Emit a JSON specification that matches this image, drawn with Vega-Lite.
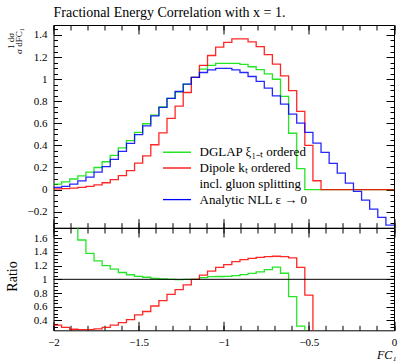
{
"$schema": "https://vega.github.io/schema/vega-lite/v6.json",
"padding": {"left": 4.5, "top": 5, "right": 0, "bottom": 0},
"config": {
  "font": "Liberation Serif",
  "view": {"stroke": "black", "strokeWidth": 1},
  "axis": {"labelFlush": false, "labelOverlap": false, "labelBound": false, "grid": false, "domain": false, "tickColor": "black", "tickWidth": 1, "labelColor": "black", "titleColor": "black", "labelFont": "Liberation Serif", "titleFont": "Liberation Serif", "titleFontWeight": "normal", "labelFontSize": 11}
},
"datasets": {
"main": [
{"s":"g","x":-2,"v":0.05},{"s":"g","x":-1.95238,"v":0.07},{"s":"g","x":-1.90476,"v":0.096},{"s":"g","x":-1.85714,"v":0.125},{"s":"g","x":-1.80952,"v":0.158},{"s":"g","x":-1.7619,"v":0.2},{"s":"g","x":-1.71429,"v":0.252},{"s":"g","x":-1.66667,"v":0.31},{"s":"g","x":-1.61905,"v":0.378},{"s":"g","x":-1.57143,"v":0.443},{"s":"g","x":-1.52381,"v":0.518},{"s":"g","x":-1.47619,"v":0.596},{"s":"g","x":-1.42857,"v":0.675},{"s":"g","x":-1.38095,"v":0.748},{"s":"g","x":-1.33333,"v":0.825},{"s":"g","x":-1.28571,"v":0.885},{"s":"g","x":-1.2381,"v":0.955},{"s":"g","x":-1.19048,"v":1.015},{"s":"g","x":-1.14286,"v":1.09},{"s":"g","x":-1.09524,"v":1.125},{"s":"g","x":-1.04762,"v":1.142},{"s":"g","x":-1,"v":1.143},{"s":"g","x":-0.95238,"v":1.143},{"s":"g","x":-0.90476,"v":1.133},{"s":"g","x":-0.85714,"v":1.112},{"s":"g","x":-0.80952,"v":1.086},{"s":"g","x":-0.7619,"v":1.048},{"s":"g","x":-0.71429,"v":0.999},{"s":"g","x":-0.66667,"v":0.843},{"s":"g","x":-0.61905,"v":0.51},{"s":"g","x":-0.57143,"v":0.19},{"s":"g","x":-0.52381,"v":0},{"s":"g","x":-0.47619,"v":0},{"s":"g","x":-0.42857,"v":0},{"s":"g","x":-0.38095,"v":0},{"s":"g","x":-0.33333,"v":0},{"s":"g","x":-0.28571,"v":0},{"s":"g","x":-0.2381,"v":0},{"s":"g","x":-0.19048,"v":0},{"s":"g","x":-0.14286,"v":0},{"s":"g","x":-0.09524,"v":0},{"s":"g","x":-0.04762,"v":0},{"s":"g","x":0,"v":0},
{"s":"r","x":-2,"v":0.0066},{"s":"r","x":-1.95238,"v":0.009},{"s":"r","x":-1.90476,"v":0.0135},{"s":"r","x":-1.85714,"v":0.0207},{"s":"r","x":-1.80952,"v":0.0297},{"s":"r","x":-1.7619,"v":0.0435},{"s":"r","x":-1.71429,"v":0.0618},{"s":"r","x":-1.66667,"v":0.0904},{"s":"r","x":-1.61905,"v":0.127},{"s":"r","x":-1.57143,"v":0.171},{"s":"r","x":-1.52381,"v":0.239},{"s":"r","x":-1.47619,"v":0.306},{"s":"r","x":-1.42857,"v":0.406},{"s":"r","x":-1.38095,"v":0.513},{"s":"r","x":-1.33333,"v":0.644},{"s":"r","x":-1.28571,"v":0.755},{"s":"r","x":-1.2381,"v":0.879},{"s":"r","x":-1.19048,"v":1.015},{"s":"r","x":-1.14286,"v":1.124},{"s":"r","x":-1.09524,"v":1.214},{"s":"r","x":-1.04762,"v":1.29},{"s":"r","x":-1,"v":1.332},{"s":"r","x":-0.95238,"v":1.364},{"s":"r","x":-0.90476,"v":1.364},{"s":"r","x":-0.85714,"v":1.338},{"s":"r","x":-0.80952,"v":1.294},{"s":"r","x":-0.7619,"v":1.222},{"s":"r","x":-0.71429,"v":1.135},{"s":"r","x":-0.66667,"v":1.03},{"s":"r","x":-0.61905,"v":0.896},{"s":"r","x":-0.57143,"v":0.708},{"s":"r","x":-0.52381,"v":0.4},{"s":"r","x":-0.47619,"v":0.08},{"s":"r","x":-0.42857,"v":0},{"s":"r","x":-0.38095,"v":0},{"s":"r","x":-0.33333,"v":0},{"s":"r","x":-0.28571,"v":0},{"s":"r","x":-0.2381,"v":0},{"s":"r","x":-0.19048,"v":0},{"s":"r","x":-0.14286,"v":0},{"s":"r","x":-0.09524,"v":0},{"s":"r","x":-0.04762,"v":0},{"s":"r","x":0,"v":0},
{"s":"b","x":-2,"v":0.02},{"s":"b","x":-1.95238,"v":0.03},{"s":"b","x":-1.90476,"v":0.05},{"s":"b","x":-1.85714,"v":0.078},{"s":"b","x":-1.80952,"v":0.112},{"s":"b","x":-1.7619,"v":0.158},{"s":"b","x":-1.71429,"v":0.208},{"s":"b","x":-1.66667,"v":0.274},{"s":"b","x":-1.61905,"v":0.346},{"s":"b","x":-1.57143,"v":0.418},{"s":"b","x":-1.52381,"v":0.497},{"s":"b","x":-1.47619,"v":0.577},{"s":"b","x":-1.42857,"v":0.667},{"s":"b","x":-1.38095,"v":0.744},{"s":"b","x":-1.33333,"v":0.825},{"s":"b","x":-1.28571,"v":0.888},{"s":"b","x":-1.2381,"v":0.955},{"s":"b","x":-1.19048,"v":1.015},{"s":"b","x":-1.14286,"v":1.06},{"s":"b","x":-1.09524,"v":1.084},{"s":"b","x":-1.04762,"v":1.097},{"s":"b","x":-1,"v":1.097},{"s":"b","x":-0.95238,"v":1.084},{"s":"b","x":-0.90476,"v":1.06},{"s":"b","x":-0.85714,"v":1.024},{"s":"b","x":-0.80952,"v":0.979},{"s":"b","x":-0.7619,"v":0.918},{"s":"b","x":-0.71429,"v":0.849},{"s":"b","x":-0.66667,"v":0.774},{"s":"b","x":-0.61905,"v":0.683},{"s":"b","x":-0.57143,"v":0.602},{"s":"b","x":-0.52381,"v":0.518},{"s":"b","x":-0.47619,"v":0.42},{"s":"b","x":-0.42857,"v":0.337},{"s":"b","x":-0.38095,"v":0.237},{"s":"b","x":-0.33333,"v":0.149},{"s":"b","x":-0.28571,"v":0.059},{"s":"b","x":-0.2381,"v":-0.016},{"s":"b","x":-0.19048,"v":-0.095},{"s":"b","x":-0.14286,"v":-0.176},{"s":"b","x":-0.09524,"v":-0.252},{"s":"b","x":-0.04762,"v":-0.321},{"s":"b","x":0,"v":-0.321}
],
"ratio": [
{"s":"g","x":-2,"v":2.5},{"s":"g","x":-1.95238,"v":2.33},{"s":"g","x":-1.90476,"v":1.92},{"s":"g","x":-1.85714,"v":1.575},{"s":"g","x":-1.80952,"v":1.38},{"s":"g","x":-1.7619,"v":1.27},{"s":"g","x":-1.71429,"v":1.2},{"s":"g","x":-1.66667,"v":1.15},{"s":"g","x":-1.61905,"v":1.1},{"s":"g","x":-1.57143,"v":1.067},{"s":"g","x":-1.52381,"v":1.044},{"s":"g","x":-1.47619,"v":1.03},{"s":"g","x":-1.42857,"v":1.015},{"s":"g","x":-1.38095,"v":1.005},{"s":"g","x":-1.33333,"v":1.0},{"s":"g","x":-1.28571,"v":0.995},{"s":"g","x":-1.2381,"v":1.0},{"s":"g","x":-1.19048,"v":1.0},{"s":"g","x":-1.14286,"v":1.024},{"s":"g","x":-1.09524,"v":1.038},{"s":"g","x":-1.04762,"v":1.041},{"s":"g","x":-1,"v":1.042},{"s":"g","x":-0.95238,"v":1.054},{"s":"g","x":-0.90476,"v":1.069},{"s":"g","x":-0.85714,"v":1.086},{"s":"g","x":-0.80952,"v":1.109},{"s":"g","x":-0.7619,"v":1.142},{"s":"g","x":-0.71429,"v":1.177},{"s":"g","x":-0.66667,"v":1.089},{"s":"g","x":-0.61905,"v":0.747},{"s":"g","x":-0.57143,"v":0.316},{"s":"g","x":-0.52381,"v":0},{"s":"g","x":-0.47619,"v":0},{"s":"g","x":-0.42857,"v":0},{"s":"g","x":-0.38095,"v":0},{"s":"g","x":-0.33333,"v":0},{"s":"g","x":-0.28571,"v":0},{"s":"g","x":-0.2381,"v":0},{"s":"g","x":-0.19048,"v":0},{"s":"g","x":-0.14286,"v":0},{"s":"g","x":-0.09524,"v":0},{"s":"g","x":-0.04762,"v":0},{"s":"g","x":0,"v":0},
{"s":"r","x":-2,"v":0.331},{"s":"r","x":-1.95238,"v":0.297},{"s":"r","x":-1.90476,"v":0.27},{"s":"r","x":-1.85714,"v":0.265},{"s":"r","x":-1.80952,"v":0.265},{"s":"r","x":-1.7619,"v":0.275},{"s":"r","x":-1.71429,"v":0.297},{"s":"r","x":-1.66667,"v":0.33},{"s":"r","x":-1.61905,"v":0.367},{"s":"r","x":-1.57143,"v":0.41},{"s":"r","x":-1.52381,"v":0.48},{"s":"r","x":-1.47619,"v":0.53},{"s":"r","x":-1.42857,"v":0.61},{"s":"r","x":-1.38095,"v":0.69},{"s":"r","x":-1.33333,"v":0.78},{"s":"r","x":-1.28571,"v":0.85},{"s":"r","x":-1.2381,"v":0.92},{"s":"r","x":-1.19048,"v":1.0},{"s":"r","x":-1.14286,"v":1.06},{"s":"r","x":-1.09524,"v":1.12},{"s":"r","x":-1.04762,"v":1.176},{"s":"r","x":-1,"v":1.214},{"s":"r","x":-0.95238,"v":1.258},{"s":"r","x":-0.90476,"v":1.287},{"s":"r","x":-0.85714,"v":1.307},{"s":"r","x":-0.80952,"v":1.322},{"s":"r","x":-0.7619,"v":1.331},{"s":"r","x":-0.71429,"v":1.337},{"s":"r","x":-0.66667,"v":1.331},{"s":"r","x":-0.61905,"v":1.312},{"s":"r","x":-0.57143,"v":1.176},{"s":"r","x":-0.52381,"v":0.77},{"s":"r","x":-0.47619,"v":0.19},{"s":"r","x":-0.42857,"v":0},{"s":"r","x":-0.38095,"v":0},{"s":"r","x":-0.33333,"v":0},{"s":"r","x":-0.28571,"v":0},{"s":"r","x":-0.2381,"v":0},{"s":"r","x":-0.19048,"v":0},{"s":"r","x":-0.14286,"v":0},{"s":"r","x":-0.09524,"v":0},{"s":"r","x":-0.04762,"v":0},{"s":"r","x":0,"v":0}
]
},
"spacing": 0,
"bounds": "flush",
"resolve": {"scale": {"color": "independent", "x": "independent", "y": "independent"}, "legend": {"color": "independent"}},
"vconcat": [
{
  "width": 340.5, "height": 202.7,
  "title": {"text": "Fractional Energy Correlation with x = 1.", "anchor": "start", "frame": "group", "fontSize": 14, "fontWeight": "normal", "font": "Liberation Serif", "color": "black", "baseline": "alphabetic", "offset": -6},
  "data": {"name": "main"},
  "resolve": {"axis": {"x": "independent", "y": "independent"}},
  "layer": [
    {"mark": {"type": "line", "interpolate": "step-after", "clip": true, "strokeWidth": 1.3, "strokeOpacity": 0.85},
     "encoding": {
       "x": {"field": "x", "type": "quantitative", "scale": {"domain": [-2, 0], "nice": false, "zero": false},
             "axis": {"orient": "bottom", "values": [-2, -1.5, -1, -0.5, 0], "tickSize": -9, "labels": false, "title": null}},
       "y": {"field": "v", "type": "quantitative", "scale": {"domain": [-0.345, 1.49], "nice": false, "zero": false},
             "axis": {"orient": "left", "values": [-0.2, 0, 0.2, 0.4, 0.6, 0.8, 1, 1.2, 1.4], "format": "~g", "tickSize": -8, "labelPadding": 14.5,
                      "title": ["1    dσ", "σ  dFC₁"], "titleAngle": -90, "titleX": -43.5, "titleY": 15.5, "titleAlign": "center", "titleBaseline": "middle", "titleFontSize": 9, "titleLineHeight": 8}},
       "color": {"field": "s", "type": "nominal",
                 "scale": {"domain": ["g", "r", "i", "b"], "range": ["#00e000", "#ff0000", "#ffffff", "#0000ff"]},
                 "legend": {"orient": "none", "legendX": 117, "legendY": 120.7, "title": null, "padding": 0,
                            "symbolType": "M-2.8,0H2.8", "symbolSize": 100, "symbolStrokeWidth": 1.3, "labelOffset": 16, "rowPadding": 1.8,
                            "labelFontSize": 13, "labelFont": "Liberation Serif", "labelColor": "black", "labelLimit": 300,
                            "labelExpr": "datum.label == 'g' ? 'DGLAP ξ₁₋ₜ ordered' : datum.label == 'r' ? 'Dipole kₜ ordered' : datum.label == 'i' ? 'incl. gluon splitting' : 'Analytic NLL ε → 0'"}}
     }},
    {"mark": {"type": "line", "opacity": 0},
     "encoding": {
       "x": {"field": "x", "type": "quantitative", "axis": {"orient": "bottom", "values": [-2,-1.9,-1.8,-1.7,-1.6,-1.5,-1.4,-1.3,-1.2,-1.1,-1,-0.9,-0.8,-0.7,-0.6,-0.5,-0.4,-0.3,-0.2,-0.1,0], "tickSize": -5, "labels": false, "title": null}},
       "y": {"field": "v", "type": "quantitative", "axis": {"orient": "left", "values": [-0.3,-0.25,-0.2,-0.15,-0.1,-0.05,0,0.05,0.1,0.15,0.2,0.25,0.3,0.35,0.4,0.45,0.5,0.55,0.6,0.65,0.7,0.75,0.8,0.85,0.9,0.95,1,1.05,1.1,1.15,1.2,1.25,1.3,1.35,1.4,1.45], "tickSize": -4, "labels": false, "title": null}}
     }},
    {"mark": {"type": "line", "opacity": 0},
     "encoding": {
       "x": {"field": "x", "type": "quantitative", "axis": {"orient": "top", "values": [-2, -1.5, -1, -0.5, 0], "tickSize": -9, "labels": false, "title": null}},
       "y": {"field": "v", "type": "quantitative", "axis": {"orient": "right", "values": [-0.2, 0, 0.2, 0.4, 0.6, 0.8, 1, 1.2, 1.4], "tickSize": -8, "labels": false, "title": null}}
     }},
    {"mark": {"type": "line", "opacity": 0},
     "encoding": {
       "x": {"field": "x", "type": "quantitative", "axis": {"orient": "top", "values": [-2,-1.9,-1.8,-1.7,-1.6,-1.5,-1.4,-1.3,-1.2,-1.1,-1,-0.9,-0.8,-0.7,-0.6,-0.5,-0.4,-0.3,-0.2,-0.1,0], "tickSize": -5, "labels": false, "title": null}},
       "y": {"field": "v", "type": "quantitative", "axis": {"orient": "right", "values": [-0.3,-0.25,-0.2,-0.15,-0.1,-0.05,0,0.05,0.1,0.15,0.2,0.25,0.3,0.35,0.4,0.45,0.5,0.55,0.6,0.65,0.7,0.75,0.8,0.85,0.9,0.95,1,1.05,1.1,1.15,1.2,1.25,1.3,1.35,1.4,1.45], "tickSize": -4, "labels": false, "title": null}}
     }}
  ]
},
{
  "width": 340.5, "height": 102.3,
  "data": {"name": "ratio"},
  "resolve": {"axis": {"x": "independent", "y": "independent"}},
  "layer": [
    {"mark": {"type": "line", "interpolate": "step-after", "clip": true, "strokeWidth": 1.3, "strokeOpacity": 0.85},
     "encoding": {
       "x": {"field": "x", "type": "quantitative", "scale": {"domain": [-2, 0], "nice": false, "zero": false},
             "axis": {"orient": "bottom", "values": [-2, -1.5, -1, -0.5, 0], "format": "~g", "tickSize": -9, "labelPadding": 15, "labelBaseline": "top",
                      "title": "FC₁", "titleFontStyle": "italic", "titleFontSize": 12, "titleAnchor": "end", "titleAlign": "right", "titleBaseline": "alphabetic", "titleX": 342.5, "titleY": 28.5}},
       "y": {"field": "v", "type": "quantitative", "scale": {"domain": [0.255, 1.75], "nice": false, "zero": false},
             "axis": {"orient": "left", "values": [0.4, 0.6, 0.8, 1, 1.2, 1.4, 1.6], "format": "~g", "tickSize": -8, "labelPadding": 14.5,
                      "title": "Ratio", "titleAngle": -90, "titleX": -34.5, "titleY": 48, "titleAlign": "center", "titleBaseline": "bottom", "titleFontSize": 14}},
       "color": {"field": "s", "type": "nominal", "scale": {"domain": ["g", "r"], "range": ["#00e000", "#ff0000"]}, "legend": null}
     }},
    {"mark": {"type": "line", "opacity": 0},
     "encoding": {
       "x": {"field": "x", "type": "quantitative", "axis": {"orient": "bottom", "values": [-2,-1.9,-1.8,-1.7,-1.6,-1.5,-1.4,-1.3,-1.2,-1.1,-1,-0.9,-0.8,-0.7,-0.6,-0.5,-0.4,-0.3,-0.2,-0.1,0], "tickSize": -5, "labels": false, "title": null}},
       "y": {"field": "v", "type": "quantitative", "axis": {"orient": "left", "values": [0.3,0.35,0.4,0.45,0.5,0.55,0.6,0.65,0.7,0.75,0.8,0.85,0.9,0.95,1,1.05,1.1,1.15,1.2,1.25,1.3,1.35,1.4,1.45,1.5,1.55,1.6,1.65,1.7,1.75], "tickSize": -4, "labels": false, "title": null}}
     }},
    {"mark": {"type": "line", "opacity": 0},
     "encoding": {
       "x": {"field": "x", "type": "quantitative", "axis": {"orient": "top", "values": [-2, -1.5, -1, -0.5, 0], "tickSize": -9, "labels": false, "title": null}},
       "y": {"field": "v", "type": "quantitative", "axis": {"orient": "right", "values": [0.4, 0.6, 0.8, 1, 1.2, 1.4, 1.6], "tickSize": -8, "labels": false, "title": null}}
     }},
    {"mark": {"type": "line", "opacity": 0},
     "encoding": {
       "x": {"field": "x", "type": "quantitative", "axis": {"orient": "top", "values": [-2,-1.9,-1.8,-1.7,-1.6,-1.5,-1.4,-1.3,-1.2,-1.1,-1,-0.9,-0.8,-0.7,-0.6,-0.5,-0.4,-0.3,-0.2,-0.1,0], "tickSize": -5, "labels": false, "title": null}},
       "y": {"field": "v", "type": "quantitative", "axis": {"orient": "right", "values": [0.3,0.35,0.4,0.45,0.5,0.55,0.6,0.65,0.7,0.75,0.8,0.85,0.9,0.95,1,1.05,1.1,1.15,1.2,1.25,1.3,1.35,1.4,1.45,1.5,1.55,1.6,1.65,1.7,1.75], "tickSize": -4, "labels": false, "title": null}}
     }},
    {"data": {"values": [{}]}, "mark": {"type": "rule", "color": "black", "strokeWidth": 1},
     "encoding": {"y": {"datum": 1, "type": "quantitative", "axis": null}}}
  ]
}
]
}
